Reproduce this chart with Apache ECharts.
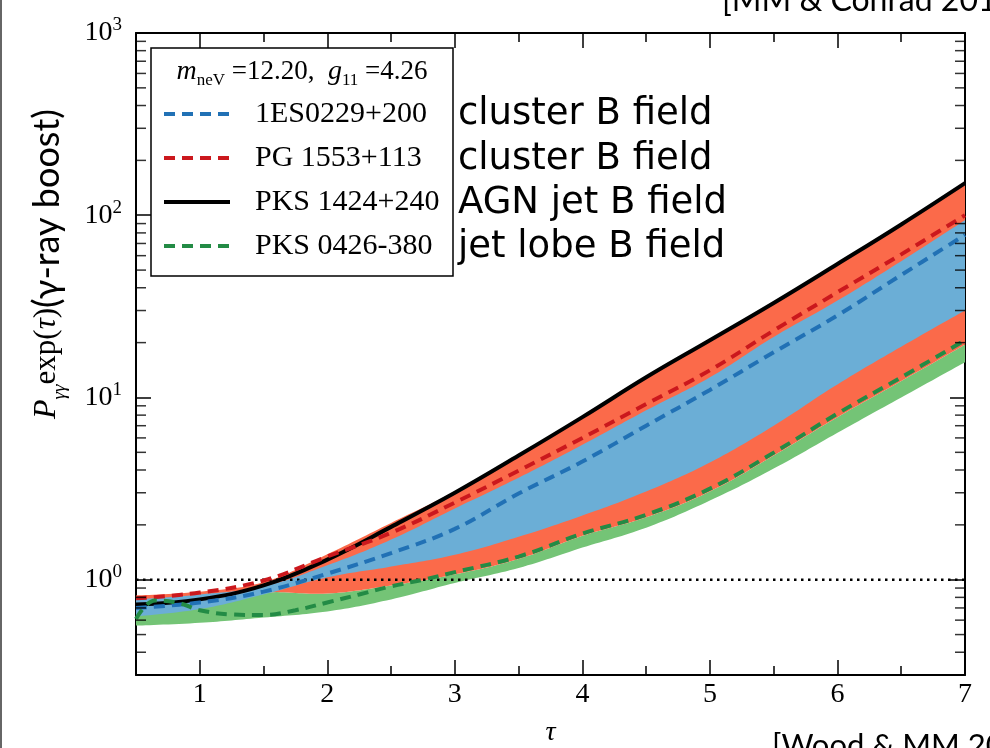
<!DOCTYPE html>
<html>
<head>
<meta charset="utf-8">
<script src="https://cdn.jsdelivr.net/npm/echarts@6/dist/echarts.min.js"></script>
<style>
  html, body { margin: 0; padding: 0; background: #fff; }
  #chart { width: 990px; height: 748px; }
</style>
</head>
<body>
<div id="chart"></div>
<script>
// tau sample points shared by the bands and the first three curves
const tau = [0.5, 1, 1.5, 2, 2.5, 3, 3.5, 4, 4.5, 5, 5.5, 6, 6.5, 7];

// band edges
const greenLow = [0.56, 0.58, 0.62, 0.67, 0.78, 0.96, 1.16, 1.50, 1.93, 2.72, 4.07, 6.4, 10.0, 15.6];
const redLow   = [0.70, 0.75, 0.85, 0.84, 0.93, 1.07, 1.30, 1.74, 2.20, 3.05, 4.8, 7.8, 12.3, 19.5];
const redTop   = [0.82, 0.86, 0.97, 1.38, 2.05, 3.05, 4.8, 7.8, 12.9, 20.6, 33, 54, 89, 150];
const blueLow  = [0.63, 0.69, 0.83, 1.03, 1.18, 1.37, 1.72, 2.25, 3.05, 4.4, 7.0, 11.8, 19, 30];
const blueTop  = [0.78, 0.83, 0.92, 1.2, 1.66, 2.46, 3.63, 5.5, 8.5, 12.9, 21.5, 34, 56, 94];

// source curves
const es0229  = [0.70, 0.75, 0.86, 1.08, 1.40, 1.90, 2.97, 4.45, 7.0, 11.0, 17.7, 28.2, 47, 78];
const pg1553  = [0.79, 0.85, 0.99, 1.34, 1.81, 2.65, 3.97, 6.0, 9.2, 14.1, 23.3, 37.8, 61, 100];
const pks1424 = [0.73, 0.78, 0.93, 1.29, 1.95, 3.0, 4.8, 7.8, 12.9, 20.6, 33, 54, 89, 150];
const tau0426 = [0.5, 0.65, 0.85, 1, 1.25, 1.5, 1.75, 2, 2.25, 2.5, 2.75, 3, 3.5, 4, 4.5, 5, 5.5, 6, 6.5, 7];
const pks0426 = [0.61, 0.77, 0.74, 0.68, 0.645, 0.64, 0.68, 0.75, 0.83, 0.92, 1.0, 1.1, 1.34, 1.79, 2.27, 3.16, 4.98, 8.16, 12.9, 20.6];

const refLevel = 1;
const minorY = [0.4, 0.5, 0.6, 0.7, 0.8, 0.9, 2, 3, 4, 5, 6, 7, 8, 9,
                20, 30, 40, 50, 60, 70, 80, 90, 200, 300, 400, 500, 600, 700, 800, 900];

const SERIF = 'Liberation Serif';
const SANS = 'Lato, "Noto Sans", sans-serif';
const WIDE_SANS = '"DejaVu Sans", sans-serif';
const SMOOTH = 0.4;
const DASH = [11, 7];

const pairs = (xs, ys) => xs.map((x, i) => [x, ys[i]]);

// same bezier construction as the line series smoothing, sampled in pixel space
function smoothEdge(pts, s) {
  const out = [pts[0]];
  let cp0 = pts[0];
  for (let i = 1; i < pts.length; i++) {
    const p = pts[i], prev = pts[i - 1], nx = pts[i + 1];
    let cp1 = p, next0 = p;
    if (nx) {
      const vx = nx[0] - prev[0], vy = nx[1] - prev[1];
      const l0 = Math.hypot(p[0] - prev[0], p[1] - prev[1]);
      const l1 = Math.hypot(nx[0] - p[0], nx[1] - p[1]);
      const r = l1 / (l0 + l1);
      cp1 = [p[0] - vx * s * (1 - r), p[1] - vy * s * (1 - r)];
      next0 = [p[0] + vx * s * r, p[1] + vy * s * r];
    }
    for (let k = 1; k <= 16; k++) {
      const t = k / 16, u = 1 - t;
      const a = u * u * u, b = 3 * u * u * t, c = 3 * u * t * t, d = t * t * t;
      out.push([a * prev[0] + b * cp0[0] + c * cp1[0] + d * p[0],
                a * prev[1] + b * cp0[1] + c * cp1[1] + d * p[1]]);
    }
    cp0 = next0;
  }
  return out;
}

// filled band between two edges, drawn through the axis scales
function band(lo, hi, color, z) {
  return {
    type: 'custom', coordinateSystem: 'cartesian2d', data: [[tau[0], lo[0]]], silent: true, clip: true, z: z,
    renderItem: (params, api) => {
      const upper = smoothEdge(tau.map((t, i) => api.coord([t, hi[i]])), SMOOTH);
      const lower = smoothEdge(tau.map((t, i) => api.coord([t, lo[i]])), SMOOTH).reverse();
      return { type: 'polygon', shape: { points: upper.concat(lower) }, style: { fill: color } };
    }
  };
}

function curve(name, xs, ys, color, type, width, z) {
  return { name: name, type: 'line', data: pairs(xs, ys), symbol: 'none', showSymbol: false, smooth: SMOOTH,
    lineStyle: { color: color, width: width, type: type }, itemStyle: { color: color },
    silent: true, z: z };
}

function minorTicks(x, off) {
  return { type: 'scatter', data: minorY.map(v => [x, v]), symbol: 'rect', symbolSize: [10, 1.5],
    symbolOffset: [off, 0], itemStyle: { color: '#000' }, silent: true, clip: false, z: 10 };
}

const frame = { show: true, onZero: false, lineStyle: { color: '#000', width: 2 } };
const tickStyle = { color: '#000', width: 1.5 };

function xAx(pos, major, labels) {
  const ax = { type: 'value', position: pos, min: 0.5, max: 7, splitLine: { show: false },
    axisLine: major ? frame : { show: false },
    axisTick: { inside: true, length: major ? 15 : 9, lineStyle: tickStyle },
    axisLabel: { show: false } };
  if (major) ax.splitNumber = 6; else ax.interval = 0.5;
  if (labels) {
    ax.axisLabel = { show: true, margin: 6, color: '#000', fontFamily: SERIF, fontSize: 28,
      formatter: v => (Math.abs(v - Math.round(v)) < 1e-9 ? String(Math.round(v)) : '') };
    ax.name = 'τ';
    ax.nameLocation = 'middle';
    ax.nameGap = 44;
    ax.nameTextStyle = { color: '#000', fontFamily: SERIF, fontStyle: 'italic', fontSize: 28 };
  }
  return ax;
}

function yAx(pos, labels) {
  return { type: 'log', position: pos, min: 0.3, max: 1000, logBase: 10, splitLine: { show: false },
    axisLine: frame, axisTick: { inside: true, length: 15, lineStyle: tickStyle },
    axisLabel: labels ? {
      margin: 14, color: '#000',
      formatter: v => {
        const e = Math.round(Math.log10(v));
        return Math.abs(Math.log10(v) - e) < 1e-6 ? '{b|10}{s|' + e + '}' : '';
      },
      rich: {
        b: { fontFamily: SERIF, fontSize: 28, lineHeight: 34, color: '#000' },
        s: { fontFamily: SERIF, fontSize: 19, lineHeight: 18, verticalAlign: 'top', color: '#000' }
      }
    } : { show: false } };
}

const chart = echarts.init(document.getElementById('chart'), null, { renderer: 'canvas' });

const option = {
  animation: false,
  backgroundColor: '#fff',
  grid: { left: 136, right: 25, top: 33, bottom: 73, outerBoundsMode: 'none' },
  xAxis: [xAx('bottom', true, true), xAx('bottom', false, false), xAx('top', true, false), xAx('top', false, false)],
  yAxis: [yAx('left', true), yAx('right', false)],
  legend: {
    left: 162, top: 98, orient: 'vertical', padding: 0, itemGap: 12, itemWidth: 66, itemHeight: 14,
    selectedMode: false, z: 20,
    itemStyle: { opacity: 0 },
    lineStyle: { width: 4 },
    textStyle: { fontFamily: SERIF, fontSize: 30, color: '#000', lineHeight: 32, padding: [0, 0, 0, 20] },
    data: ['1ES0229+200', 'PG 1553+113', 'PKS 1424+240', 'PKS 0426-380']
  },
  graphic: [
    { type: 'rect', shape: { x: 0, y: 0, width: 2, height: 748 }, style: { fill: '#666' }, z: 30 },
    { type: 'rect', shape: { x: 151, y: 48, width: 302, height: 228 },
      style: { fill: '#fff', stroke: '#000', lineWidth: 1.5 }, z: 15 },
    { type: 'text', x: 302, y: 72, z: 21,
      style: { text: '{i|m}{sub|neV}{t| =12.20,  }{i|g}{sub|11}{t| =4.26}', align: 'center', verticalAlign: 'middle',
        rich: {
          i: { fontFamily: SERIF, fontStyle: 'italic', fontSize: 28, lineHeight: 34, fill: '#000' },
          t: { fontFamily: SERIF, fontSize: 27, lineHeight: 34, fill: '#000' },
          sub: { fontFamily: SERIF, fontSize: 17, lineHeight: 24, verticalAlign: 'bottom', fill: '#000' }
        } } },
    { type: 'text', x: 458, y: 114, z: 21, style: { text: 'cluster B field', font: '37px ' + WIDE_SANS, fill: '#000', verticalAlign: 'middle' } },
    { type: 'text', x: 458, y: 159, z: 21, style: { text: 'cluster B field', font: '37px ' + WIDE_SANS, fill: '#000', verticalAlign: 'middle' } },
    { type: 'text', x: 458, y: 203, z: 21, style: { text: 'AGN jet B field', font: '37px ' + WIDE_SANS, fill: '#000', verticalAlign: 'middle' } },
    { type: 'text', x: 458, y: 247, z: 21, style: { text: 'jet lobe B field', font: '37px ' + WIDE_SANS, fill: '#000', verticalAlign: 'middle' } },
    { type: 'text', x: 722, y: 1, z: 21, style: { text: '[MM & Conrad 2014]', font: '32px ' + SANS, fill: '#000', verticalAlign: 'middle' } },
    { type: 'text', x: 772, y: 746, z: 21, style: { text: '[Wood & MM 2015]', font: '31px ' + SANS, fill: '#000', verticalAlign: 'middle' } },
    { type: 'text', x: 47, y: 264, rotation: Math.PI / 2, z: 21,
      style: { text: '{p|P}{sub|γγ}{r|exp(}{ri|τ}{r|)}{s|(γ-ray boost)}', align: 'center', verticalAlign: 'middle',
        rich: {
          p: { fontFamily: SERIF, fontStyle: 'italic', fontSize: 32, lineHeight: 44, fill: '#000' },
          sub: { fontFamily: SERIF, fontStyle: 'italic', fontSize: 19, lineHeight: 30, verticalAlign: 'bottom', fill: '#000' },
          r: { fontFamily: SERIF, fontSize: 31, lineHeight: 44, fill: '#000' },
          ri: { fontFamily: SERIF, fontStyle: 'italic', fontSize: 31, lineHeight: 44, fill: '#000' },
          s: { fontFamily: SANS, fontSize: 36, lineHeight: 44, fill: '#000' }
        } } }
  ],
  series: [
    band(greenLow, redLow, '#74c476', 1),
    band(redLow, redTop, '#fb6a4a', 2),
    band(blueLow, blueTop, '#6baed6', 3),
    { type: 'line', data: [[0.5, refLevel], [7, refLevel]], symbol: 'none', silent: true, z: 4,
      lineStyle: { color: '#000', width: 2.5, type: [2.5, 4.5] } },
    curve('PKS 1424+240', tau, pks1424, '#000', 'solid', 4, 5),
    curve('PG 1553+113', tau, pg1553, '#cb181d', DASH, 4, 6),
    curve('1ES0229+200', tau, es0229, '#2171b5', DASH, 4, 7),
    curve('PKS 0426-380', tau0426, pks0426, '#238b45', DASH, 4, 8),
    minorTicks(0.5, 5),
    minorTicks(7, -5)
  ]
};

chart.setOption(option);
</script>
</body>
</html>
